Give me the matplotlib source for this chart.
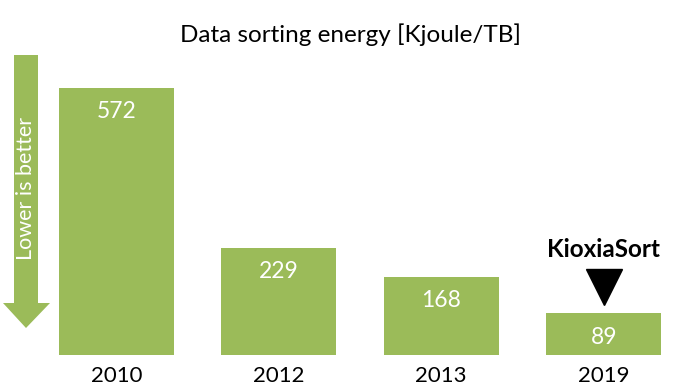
import matplotlib
matplotlib.use("Agg")
import matplotlib.pyplot as plt
from matplotlib.patches import Polygon

plt.rcParams['font.family'] = ['Lato', 'DejaVu Sans']

years = ["2010", "2012", "2013", "2019"]
energy = [572, 229, 168, 89]
title = "Data sorting energy [Kjoule/TB]"
green = "#9BBB59"

fig = plt.figure(figsize=(7.0, 3.86), dpi=100)
ax = fig.add_axes([35/700, 31/386, 650/700, 280/386])
x = list(range(len(years)))
ax.bar(x, energy, width=0.71, color=green)
ax.set_xlim(-0.5, 3.5)
ax.set_ylim(0, 600)
ax.set_xticks(x)
ax.set_xticklabels(years, fontsize=16)
ax.tick_params(axis='x', length=0, pad=8)
ax.set_yticks([])
for s in ax.spines.values():
    s.set_visible(False)

for xi, v in zip(x, energy):
    ax.annotate(str(v), (xi, v), xytext=(0, -17), textcoords='offset points',
                ha='center', va='center', color='white', fontsize=16.5)

# KioxiaSort label and triangle above last bar
ax.annotate("KioxiaSort", (3, energy[3]), xytext=(0, 46), textcoords='offset points',
            ha='center', va='center', fontsize=17.5, fontweight='bold', color='black')
ax.plot([3], [energy[3]], marker='v', markersize=26, color='black', linestyle='none',
        transform=ax.transData + matplotlib.transforms.ScaledTranslation(0, 19/72, fig.dpi_scale_trans))

fig.text(351/700, 1 - 35/386, title, ha='center', va='center', fontsize=17.5)

# Lower is better arrow (pixel coords -> figure fractions)
W, H = 700, 386
pts = [(14, 55), (38, 55), (38, 303), (50, 303), (26, 328), (3, 303), (14, 303)]
poly = Polygon([(px / W, 1 - py / H) for px, py in pts], closed=True,
               transform=fig.transFigure, facecolor=green, edgecolor='none')
fig.patches.append(poly)
fig.text(26/W, 1 - 188/H, "Lower is better", rotation=90, ha='center', va='center',
         color='white', fontsize=15.5)

fig.savefig("out.png", dpi=100)
